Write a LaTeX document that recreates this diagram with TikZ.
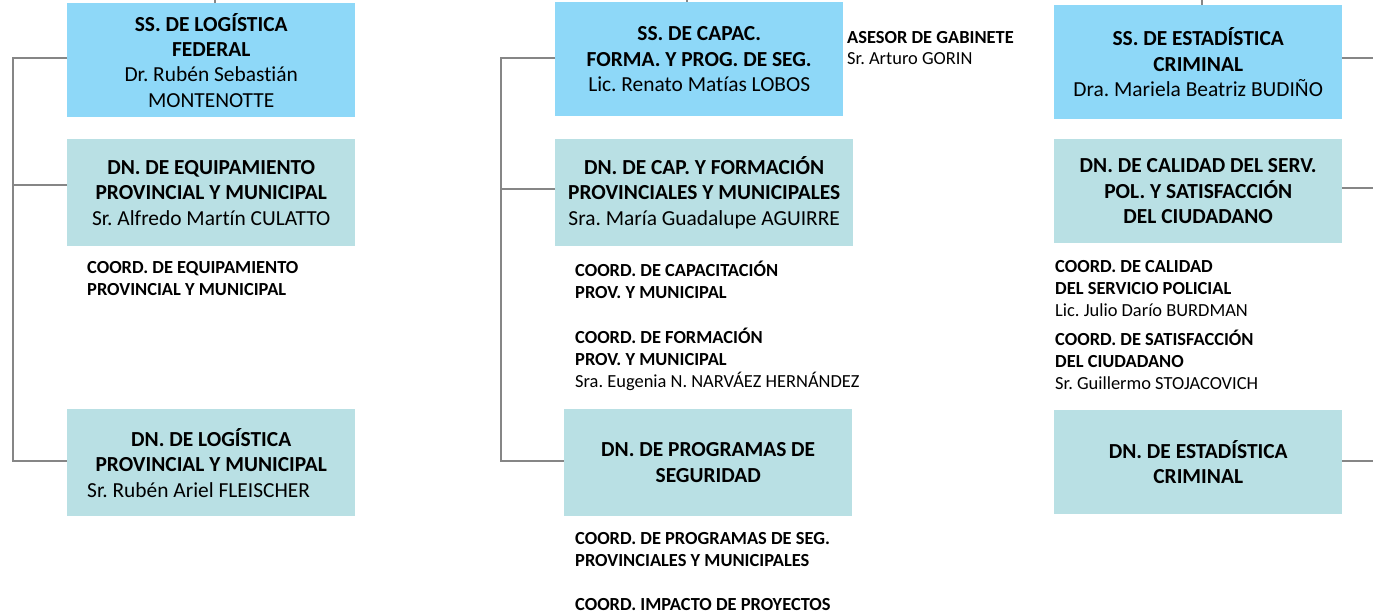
\documentclass[tikz,border=0pt]{standalone}
\usepackage{fontspec}
\setmainfont{Carlito}[Ligatures=NoCommon]
\frenchspacing
\definecolor{ssblue}{HTML}{8ED8F8}
\definecolor{dnteal}{HTML}{B9E0E4}
\definecolor{lnk}{HTML}{868686}
\newcommand{\bigf}{\fontsize{21.5}{25.5}\selectfont}
\newcommand{\smf}{\fontsize{18.5}{22}\selectfont}
\begin{document}
\begin{tikzpicture}[x=1bp,y=-1bp,
  ssbox/.style={fill=ssblue, minimum width=288bp, minimum height=114bp, inner sep=0pt, align=center, font=\bigf, anchor=north west},
  dnbox/.style={fill=dnteal, minimum width=288bp, minimum height=107bp, inner sep=0pt, align=center, font=\bigf, anchor=north west},
  lbl/.style={anchor=base west, inner sep=0pt, align=left, font=\smf},
  conn/.style={draw=lnk, line width=1.6bp}]
\useasboundingbox (0,0) rectangle (1373,613);
% left column
\node[ssbox] (s1) at (67,3) {\textbf{SS. DE LOGÍSTICA}\\\textbf{FEDERAL}\\Dr. Rubén Sebastián\\MONTENOTTE};
\node[dnbox] (d11) at (67,139) {\textbf{DN. DE EQUIPAMIENTO}\\\textbf{PROVINCIAL Y MUNICIPAL}\\Sr. Alfredo Martín CULATTO};
\node[dnbox] (d12) at (67,409) {\textbf{DN. DE LOGÍSTICA}\\\textbf{PROVINCIAL Y MUNICIPAL}\\\makebox[0pt][l]{\hspace{-124bp}Sr. Rubén Ariel FLEISCHER}};
\node[lbl] (c11) at (87,295) {\textbf{COORD. DE EQUIPAMIENTO}\\\textbf{PROVINCIAL Y MUNICIPAL}};
% middle column
\node[ssbox] (s2) at (555,2) {\textbf{SS. DE CAPAC.}\\\textbf{FORMA. Y PROG. DE SEG.}\\Lic. Renato Matías LOBOS};
\node[dnbox, minimum width=298bp] (d21) at (555,139) {\textbf{DN. DE CAP. Y FORMACIÓN}\\\textbf{PROVINCIALES Y MUNICIPALES}\\Sra. María Guadalupe AGUIRRE};
\node[dnbox] (d22) at (564,409) {\textbf{DN. DE PROGRAMAS DE}\\\textbf{SEGURIDAD}};
\node[lbl] (ase) at (847,65) {\textbf{ASESOR DE GABINETE}\\Sr. Arturo GORIN};
\node[lbl] (c21) at (575,298) {\textbf{COORD. DE CAPACITACIÓN}\\\textbf{PROV. Y MUNICIPAL}};
\node[lbl] (c22) at (575,387) {\textbf{COORD. DE FORMACIÓN}\\\textbf{PROV. Y MUNICIPAL}\\Sra. Eugenia N. NARVÁEZ HERNÁNDEZ};
\node[lbl] (c23) at (575,566) {\textbf{COORD. DE PROGRAMAS DE SEG.}\\\textbf{PROVINCIALES Y MUNICIPALES}};
\node[lbl] (c24) at (575,610) {\textbf{COORD. IMPACTO DE PROYECTOS}};
% right column
\node[ssbox] (s3) at (1054,5) {\textbf{SS. DE ESTADÍSTICA}\\\textbf{CRIMINAL}\\Dra. Mariela Beatriz BUDIÑO};
\node[dnbox, minimum height=104bp] (d31) at (1054,139) {\textbf{DN. DE CALIDAD DEL SERV.}\\\textbf{POL. Y SATISFACCIÓN}\\\textbf{DEL CIUDADANO}};
\node[dnbox, minimum height=104bp] (d32) at (1054,410) {\textbf{DN. DE ESTADÍSTICA}\\\textbf{CRIMINAL}};
\node[lbl] (c31) at (1055,316) {\textbf{COORD. DE CALIDAD}\\\textbf{DEL SERVICIO POLICIAL}\\Lic. Julio Darío BURDMAN};
\node[lbl] (c32) at (1055,389) {\textbf{COORD. DE SATISFACCIÓN}\\\textbf{DEL CIUDADANO}\\Sr. Guillermo STOJACOVICH};
% connectors
\coordinate (t1) at (215,0);
\coordinate (t2) at (687,0);
\coordinate (t3) at (1202,0);
\draw[conn] (t1 |- s1.north) -- (t1);
\draw[conn] (t2 |- s2.north) -- (t2);
\draw[conn] (t3 |- s3.north) -- (t3);
\coordinate (la) at (13,58);
\coordinate (lb) at (13,185);
\coordinate (lc) at (13,461);
\draw[conn] (s1.west |- la) -- (la) -- (lc) -- (d12.west |- lc);
\draw[conn] (d11.west |- lb) -- (lb);
\coordinate (ma) at (501,58);
\coordinate (mb) at (501,189);
\coordinate (mc) at (501,461);
\draw[conn] (s2.west |- ma) -- (ma) -- (mc) -- (d22.west |- mc);
\draw[conn] (d21.west |- mb) -- (mb);
\coordinate (ra) at (1373,58);
\coordinate (rb) at (1373,188);
\coordinate (rc) at (1373,461);
\draw[conn] (s3.east |- ra) -- (ra);
\draw[conn] (d31.east |- rb) -- (rb);
\draw[conn] (d32.east |- rc) -- (rc);
\end{tikzpicture}
\end{document}
